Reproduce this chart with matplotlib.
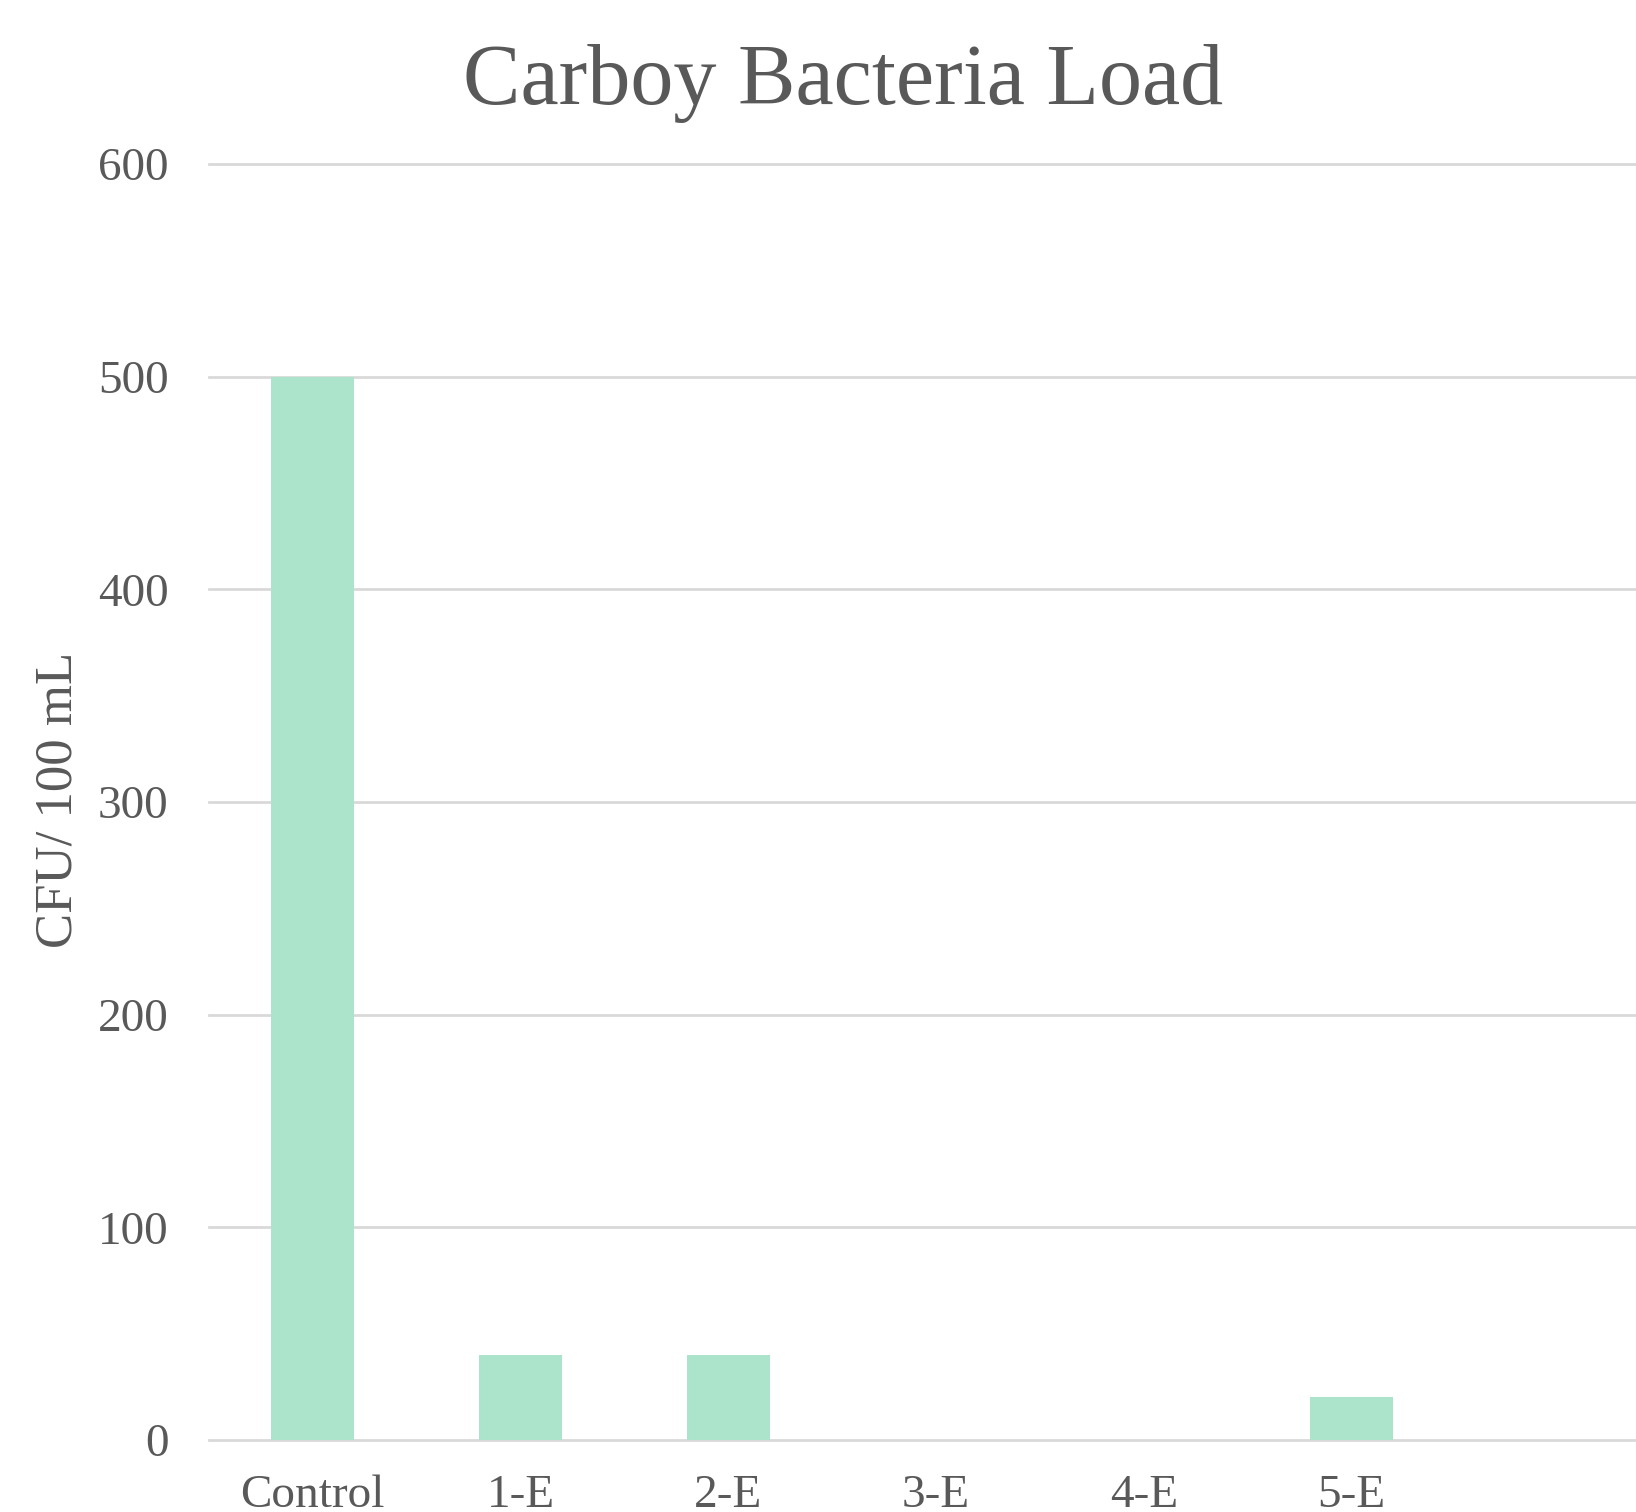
import matplotlib
matplotlib.use("Agg")
import matplotlib.pyplot as plt

categories = ["Control", "1-E", "2-E", "3-E", "4-E", "5-E"]
cfu_per_100ml = [500, 40, 40, 0, 0, 20]
y_ticks = [0, 100, 200, 300, 400, 500, 600]

TEXT = "#595959"
GRID = "#D9D9D9"
BAR = "#ABE3CB"

plt.rcParams["font.family"] = ["Liberation Serif", "DejaVu Serif"]

W, H, DPI = 1636, 1512, 100
fig = plt.figure(figsize=(W / DPI, H / DPI), dpi=DPI)
fig.patch.set_facecolor("white")

left = 209 / W
right = 1.0
top = 1 - 164 / H
bottom = 1 - 1440 / H
ax = fig.add_axes([left, bottom, right - left, top - bottom])

x = list(range(len(categories)))
ax.bar(x, cfu_per_100ml, width=0.40, color=BAR, zorder=3)

ax.set_xlim(-0.5, 6.37)
ax.set_ylim(0, 600)
ax.set_yticks(y_ticks)
ax.set_yticklabels([str(v) for v in y_ticks])
ax.set_xticks(x)
ax.set_xticklabels(categories)

for v in y_ticks:
    ax.axhline(v, color=GRID, lw=2.0, zorder=1, clip_on=False)

for s in ax.spines.values():
    s.set_visible(False)
ax.tick_params(axis="both", length=0, colors=TEXT, labelsize=34)
ax.tick_params(axis="y", pad=29)
ax.tick_params(axis="x", pad=25)

ax.set_ylabel("CFU/ 100 mL", fontsize=38, color=TEXT)
ax.yaxis.set_label_coords((59 - 209) / (W - 209), (1512 - 800 - (1512 - 1440)) / (1440 - 164))
ax.yaxis.label.set_va("center")

fig.text(843 / W, 1 - 104 / H, "Carboy Bacteria Load", ha="center",
         va="baseline", fontsize=62, color=TEXT)

fig.savefig("out.png", dpi=DPI, facecolor="white")
